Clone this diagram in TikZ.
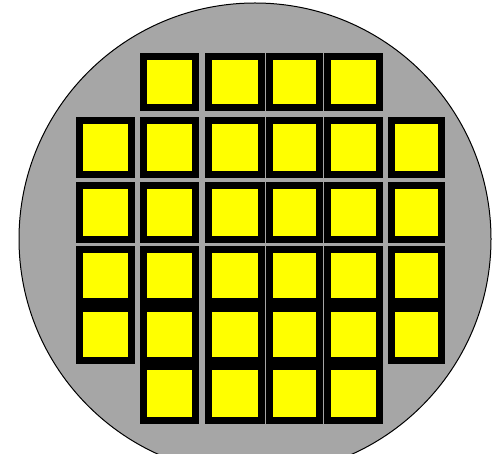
\documentclass[tikz,border=0pt]{standalone}
\definecolor{dieyellow}{RGB}{255,255,0}
\definecolor{wafergray}{RGB}{166,166,166}
\begin{document}
\begin{tikzpicture}[x=1pt,y=-1pt,
  wafer/.style={fill=wafergray,draw=black,line width=1pt},
  die/.style={fill=dieyellow,draw=black,line width=7.4pt}]
\useasboundingbox (0,0) rectangle (498,454);
\begin{scope}
\clip (0,0) rectangle (498,454);
\node[wafer,circle,minimum size=472pt,inner sep=0pt] (wafer) at (255,239) {};
\end{scope}
% columns: x1/x2 ; rows: y1/y2 (yellow interior)
\def\cellrow#1#2#3#4{%
  \foreach \xa/\xb/\c in {#4}{%
    \draw[die] (\xa-3.5,#2-3.5) rectangle (\xb+3.5,#3+3.5);
    \coordinate (d-#1-\c) at ({(\xa+\xb)/2},{(#2+#3)/2});
  }}
\cellrow{0}{60}{104}{147/192/1,212/258/2,273/316/3,331/376/4}
\cellrow{1}{124}{171}{83/128/0,147/192/1,212/258/2,273/316/3,331/376/4,395/438/5}
\cellrow{2}{189}{236}{83/128/0,147/192/1,212/258/2,273/316/3,331/376/4,395/438/5}
\cellrow{3}{253}{298}{83/128/0,147/192/1,212/258/2,273/316/3,331/376/4,395/438/5}
\cellrow{4}{312}{357}{83/128/0,147/192/1,212/258/2,273/316/3,331/376/4,395/438/5}
\cellrow{5}{370}{417}{147/192/1,212/258/2,273/316/3,331/376/4}
\end{tikzpicture}
\end{document}
